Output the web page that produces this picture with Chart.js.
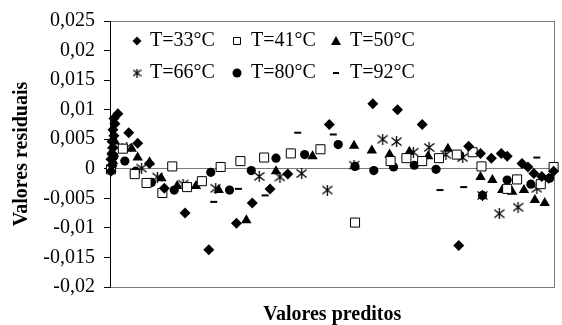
<!DOCTYPE html>
<html>
<head>
<meta charset="utf-8">
<script src="https://cdn.jsdelivr.net/npm/chart.js@4.4.1/dist/chart.umd.min.js"></script>
<style>
  html, body { margin: 0; padding: 0; background: #fff; }
</style>
</head>
<body>
<canvas id="residChart" width="562" height="325"></canvas>
<script>
// series names (temperatures)
var seriesLabels = ['T=33°C', 'T=41°C', 'T=50°C', 'T=66°C', 'T=80°C', 'T=92°C'];

// predicted values (x) and residuals (y)
var x33 = [1, 2, 1, 2, 3, 2, 4, 3, 5, 4, 8, 19, 28, 40, 55, 76, 100, 128, 144, 162, 180, 222, 266, 291, 316, 353, 363, 375, 386, 396, 402, 417, 423, 429, 437, 444, 449];
var y33 = [-0.0004, 0.0006, 0.0016, 0.0026, 0.0036, 0.0046, 0.0056, 0.0066, 0.0076, 0.0085, 0.0093, 0.0061, 0.0043, 0.0009, -0.0033, -0.0075, -0.0137, -0.0092, -0.0058, -0.0034, -0.0009, 0.0075, 0.011, 0.01, 0.0075, -0.013, 0.0038, 0.0026, 0.0018, 0.0026, 0.0021, 0.0009, 0.0003, -0.0008, -0.0013, -0.0016, -0.0004];

var x41 = [1, 13, 25, 37, 53, 63, 78, 93, 112, 132, 156, 183, 213, 248, 284, 300, 316, 333, 351, 367, 376, 402, 412, 436, 449];
var y41 = [-0.0001, 0.0034, -0.0009, -0.0024, -0.0041, 0.0004, -0.0031, -0.0021, 0.0003, 0.0013, 0.0019, 0.0026, 0.0033, -0.0091, 0.0013, 0.0018, 0.0013, 0.0018, 0.0024, 0.0028, 0.0004, -0.0034, -0.0018, -0.0026, 0.0003];

var x50 = [2, 5, 3, 22, 28, 40, 52, 68, 87, 110, 138, 168, 205, 247, 265, 283, 303, 322, 342, 375, 387, 397, 407, 419, 430, 440];
var y50 = [0.0029, 0.0046, 0.0013, 0.0034, 0.0019, 0.0011, -0.0016, -0.0029, -0.0029, -0.0036, -0.0087, -0.0004, 0.0021, 0.0039, 0.0031, 0.0024, 0.0029, 0.0021, 0.0034, -0.0014, -0.0019, -0.0036, -0.0039, -0.0036, -0.0053, -0.0058];

var x66 = [3, 17, 32, 48, 74, 107, 151, 172, 194, 220, 247, 276, 290, 307, 323, 340, 357, 377, 394, 413, 432];
var y66 = [0.0029, 0.0036, 0.0001, -0.0014, -0.0026, -0.0033, -0.0013, -0.0014, -0.0008, -0.0036, 0.0006, 0.005, 0.0046, 0.0028, 0.0036, 0.0024, 0.0019, -0.0045, -0.0076, -0.0065, -0.0033];

var x80 = [2, 4, 15, 26, 42, 65, 102, 121, 143, 168, 197, 231, 248, 267, 287, 308, 330, 354, 377, 402, 426, 445];
var y80 = [0.0004, 0.0021, 0.0013, -0.0004, -0.0023, -0.0036, -0.0006, -0.0036, -0.0003, 0.0018, 0.0024, 0.0041, 0.0004, -0.0003, 0.0003, 0.0006, -0.0001, 0.0023, -0.0045, -0.0019, -0.0026, -0.0016];

var x92 = [105, 130, 157, 190, 226, 334, 358, 432];
var y92 = [-0.0056, -0.0034, -0.0045, 0.0061, 0.0058, -0.0036, -0.0031, 0.0019];

// y axis range / step
var yMin = -0.02, yMax = 0.025, yStep = 0.005;
var xMin = 0, xMax = 450;

function toPoints(xs, ys) {
    return xs.map(function (x, i) { return { x: x, y: ys[i] }; });
}

// asterisk marker drawn once on a small canvas
function makeAsterisk(size) {
    var c = document.createElement('canvas');
    c.width = size; c.height = size;
    var g = c.getContext('2d');
    var m = size / 2;
    g.strokeStyle = '#000';
    g.lineWidth = 1.3;
    g.beginPath();
    g.moveTo(m, 0); g.lineTo(m, size);
    g.moveTo(0.5, 1.5); g.lineTo(size - 0.5, size - 1.5);
    g.moveTo(0.5, size - 1.5); g.lineTo(size - 0.5, 1.5);
    g.stroke();
    return c;
}
var asterisk = makeAsterisk(11);
var asteriskSmall = makeAsterisk(9);

var gray = '#7a7a7a';

// legend in two rows of three, inside the plot
var legendPlugin = {
    id: 'gridLegend',
    afterDraw: function (chart) {
        var ctx = chart.ctx;
        var markerX = [137, 237, 336];
        var textX = [150, 251, 350];
        var rowY = [41, 73];
        ctx.save();
        ctx.font = '20px "Liberation Serif"';
        ctx.textBaseline = 'middle';
        chart.data.datasets.forEach(function (ds, i) {
            var mx = markerX[i % 3], my = rowY[Math.floor(i / 3)];
            ctx.fillStyle = '#000';
            ctx.strokeStyle = '#000';
            ctx.lineWidth = 1;
            ctx.beginPath();
            if (ds.pointStyle === 'rectRot') {
                ctx.moveTo(mx, my - 4.5); ctx.lineTo(mx + 4.5, my);
                ctx.lineTo(mx, my + 4.5); ctx.lineTo(mx - 4.5, my);
                ctx.closePath(); ctx.fill();
            } else if (ds.pointStyle === 'rect') {
                ctx.fillStyle = '#fff';
                ctx.rect(mx - 3.5, my - 3.5, 7, 7);
                ctx.fill(); ctx.stroke();
            } else if (ds.pointStyle === 'triangle') {
                ctx.moveTo(mx, my - 5); ctx.lineTo(mx + 5, my + 4);
                ctx.lineTo(mx - 5, my + 4); ctx.closePath(); ctx.fill();
            } else if (ds.pointStyle === 'circle') {
                ctx.arc(mx, my, 4.5, 0, Math.PI * 2); ctx.fill();
            } else if (ds.pointStyle === 'line') {
                ctx.lineWidth = 2;
                ctx.moveTo(mx - 3, my); ctx.lineTo(mx + 3, my); ctx.stroke();
            } else {
                ctx.drawImage(asteriskSmall, mx - 4.5, my - 4.5);
            }
            ctx.fillStyle = '#000';
            ctx.fillText(ds.label, textX[i % 3], my);
        });
        ctx.restore();
    }
};

var ctx = document.getElementById('residChart').getContext('2d');
var residChart = new Chart(ctx, {
    type: 'scatter',
    data: {
        datasets: [{
            label: seriesLabels[0],
            data: toPoints(x33, y33),
            pointStyle: 'rectRot',
            pointRadius: 5.5,
            backgroundColor: '#000',
            borderColor: '#000',
            borderWidth: 0,
            clip: false
        }, {
            label: seriesLabels[1],
            data: toPoints(x41, y41),
            pointStyle: 'rect',
            pointRadius: 6.4,
            backgroundColor: '#fff',
            borderColor: '#000',
            borderWidth: 1,
            clip: false
        }, {
            label: seriesLabels[2],
            data: toPoints(x50, y50),
            pointStyle: 'triangle',
            pointRadius: 6,
            backgroundColor: '#000',
            borderColor: '#000',
            borderWidth: 0,
            clip: false
        }, {
            label: seriesLabels[3],
            data: toPoints(x66, y66),
            pointStyle: asterisk,
            pointRadius: 5.5,
            backgroundColor: '#000',
            borderColor: '#000',
            clip: false
        }, {
            label: seriesLabels[4],
            data: toPoints(x80, y80),
            pointStyle: 'circle',
            pointRadius: 4.6,
            backgroundColor: '#000',
            borderColor: '#000',
            borderWidth: 0,
            clip: false
        }, {
            label: seriesLabels[5],
            data: toPoints(x92, y92),
            pointStyle: 'line',
            pointRadius: 3.5,
            backgroundColor: '#000',
            borderColor: '#000',
            borderWidth: 2,
            clip: false
        }]
    },
    options: {
        responsive: false,
        animation: false,
        layout: { padding: { top: 19, right: 2, left: 0, bottom: 0 } },
        plugins: {
            legend: { display: false },
            tooltip: { enabled: false }
        },
        scales: {
            x: {
                type: 'linear',
                min: xMin,
                max: xMax,
                ticks: { display: false, stepSize: xMax },
                grid: { display: false, drawTicks: false },
                border: { display: true, color: gray, width: 1 },
                title: {
                    display: true,
                    text: 'Valores preditos',
                    color: '#000',
                    font: { family: 'Liberation Serif', size: 20, weight: 'bold' },
                    padding: { top: 0, bottom: -2 }
                },
                afterFit: function (scale) { scale.height = 38; }
            },
            xTop: {
                type: 'linear',
                position: 'top',
                min: xMin,
                max: xMax,
                ticks: { display: false },
                grid: { display: false, drawTicks: false },
                border: { display: true, color: gray, width: 1 },
                afterFit: function (scale) { scale.height = 0; }
            },
            y: {
                min: yMin,
                max: yMax,
                ticks: {
                    stepSize: yStep,
                    color: '#000',
                    padding: 9,
                    font: { family: 'Liberation Serif', size: 20 },
                    callback: function (v) {
                        return String(+v.toFixed(3)).replace('.', ',');
                    }
                },
                grid: {
                    tickLength: 6,
                    tickColor: '#000',
                    color: function (c) {
                        if (!c.tick) return 'rgba(0,0,0,0)';
                        return Math.abs(c.tick.value) < 1e-9 ? gray : 'rgba(0,0,0,0)';
                    }
                },
                border: { display: true, color: '#000', width: 1 },
                title: {
                    display: true,
                    text: 'Valores residuais',
                    color: '#000',
                    font: { family: 'Liberation Serif', size: 20, weight: 'bold' },
                    padding: { top: 10, bottom: 0 }
                },
                afterFit: function (scale) { scale.width = 110; }
            },
            yRight: {
                position: 'right',
                min: yMin,
                max: yMax,
                ticks: { display: false },
                grid: { display: false, drawTicks: false },
                border: { display: true, color: gray, width: 1 },
                afterFit: function (scale) { scale.width = 0; }
            }
        }
    },
    plugins: [legendPlugin]
});
</script>
</body>
</html>
